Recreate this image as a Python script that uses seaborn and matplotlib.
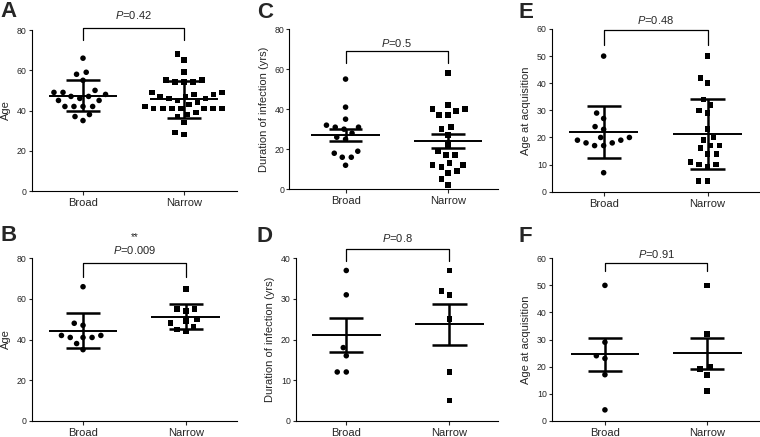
import pandas as pd
import matplotlib
matplotlib.use('Agg')
import matplotlib.pyplot as plt
import seaborn as sns

# Groups on the x axis
groups = ['Broad', 'Narrow']

# Panel A - age (mean +/- SD)
a_broad = [66, 58, 59, 55, 49, 48, 49, 50, 46, 45, 47, 47, 45, 42, 42, 42, 42, 38, 37, 35]
a_narrow = [68, 65, 59, 55, 54, 54, 54, 55, 49, 49, 48, 47, 46, 44, 45, 46, 47, 48, 43,
            41, 41, 41, 42, 41, 41, 41, 41, 37, 39, 38, 34, 28, 29]
a_mean = [47.3, 45.6]
a_low = [39.6, 36.5]
a_high = [55.2, 54.9]

# Panel B - age (mean +/- SD)
b_broad = [66, 47, 48, 42, 41, 41, 41, 42, 38, 35]
b_narrow = [65, 55, 54, 55, 50, 49, 46, 48, 44, 45]
b_mean = [44.2, 51.1]
b_low = [35.6, 45.0]
b_high = [52.9, 57.5]

# Panel C - duration of infection (mean +/- SEM)
c_broad = [55, 41, 35, 31, 30, 31, 32, 26, 25, 28, 18, 19, 16, 16, 12]
c_narrow = [58, 40, 42, 39, 40, 37, 37, 31, 30, 27, 22, 19, 17, 17, 13, 12, 12, 11, 9, 8, 5, 2]
c_mean = [27.0, 24.2]
c_low = [24.0, 20.8]
c_high = [30.0, 27.5]

# Panel D - duration of infection (mean +/- SEM)
d_broad = [37, 31, 18, 16, 12, 12]
d_narrow = [37, 32, 31, 25, 12, 5]
d_mean = [21.0, 23.7]
d_low = [16.8, 18.6]
d_high = [25.3, 28.8]

# Panel E - age at acquisition (mean +/- SD)
e_broad = [50, 29, 27, 24, 23, 20, 19, 18, 17, 17, 18, 19, 20, 7]
e_narrow = [50, 42, 40, 34, 32, 30, 29, 23, 20, 19, 17, 17, 16, 14, 14, 11, 10, 9, 10, 4, 4]
e_mean = [22.0, 21.2]
e_low = [12.4, 8.3]
e_high = [31.7, 34.1]

# Panel F - age at acquisition (mean +/- SEM)
f_broad = [50, 29, 24, 23, 17, 4]
f_narrow = [50, 32, 19, 20, 17, 11]
f_mean = [24.5, 24.9]
f_low = [18.4, 19.1]
f_high = [30.7, 30.6]

sns.set_style('ticks')
plt.rcParams['font.family'] = ['Liberation Sans', 'DejaVu Sans']
plt.rcParams['mathtext.fontset'] = 'custom'
plt.rcParams['mathtext.it'] = 'Liberation Sans:italic'
plt.rcParams['mathtext.rm'] = 'Liberation Sans'

W, H = 760, 437
fig = plt.figure(figsize=(W / 100, H / 100), dpi=100)


def px_axes(left, right, top, bottom):
    return fig.add_axes([left / W, 1 - bottom / H, (right - left) / W, (bottom - top) / H])


def draw_panel(ax, broad, narrow, mean, low, high, ylim, yticks, ylabel, xlim,
               ptext, bracket_y, leg_y, text_y, stars=None, stars_y=None):
    df = pd.DataFrame({'group': ['Broad'] * len(broad) + ['Narrow'] * len(narrow),
                       'value': broad + narrow})
    # linewidth with no edge colour only widens the swarm spacing
    sns.swarmplot(data=df[df['group'] == 'Broad'], x='group', y='value', order=groups,
                  color='black', marker='o', size=4.0, linewidth=2.2, edgecolor='none', ax=ax)
    sns.swarmplot(data=df[df['group'] == 'Narrow'], x='group', y='value', order=groups,
                  color='black', marker='s', size=4.1, linewidth=2.1, edgecolor='none', ax=ax)
    # mean line and error bars
    for i in range(len(groups)):
        ax.hlines(mean[i], i - 0.335, i + 0.335, color='black', lw=1.4, zorder=5)
        ax.vlines(i, low[i], high[i], color='black', lw=1.8, zorder=5)
        ax.hlines([low[i], high[i]], i - 0.165, i + 0.165, color='black', lw=1.8, zorder=5)
    ax.set_xlim(xlim)
    ax.set_ylim(ylim)
    ax.set_yticks(yticks)
    ax.set_xlabel('')
    ax.set_ylabel(ylabel, fontsize=8, labelpad=4)
    ax.tick_params(axis='y', labelsize=6.3, length=2, width=0.8, pad=1.5, direction='out')
    ax.tick_params(axis='x', labelsize=8, length=3, width=0.8, pad=2, direction='out')
    for s in ['left', 'bottom']:
        ax.spines[s].set_linewidth(0.8)
        ax.spines[s].set_color('black')
    sns.despine(ax=ax)
    # significance bracket
    ax.plot([0, 0, 1, 1], [leg_y, bracket_y, bracket_y, leg_y], color='black', lw=0.9,
            clip_on=False)
    ax.text(0.5, text_y, ptext, ha='center', va='baseline', fontsize=8, clip_on=False)
    if stars:
        ax.text(0.5, stars_y, stars, ha='center', va='center', fontsize=7, clip_on=False)


ax_a = px_axes(31.7, 237, 30, 191)
draw_panel(ax_a, a_broad, a_narrow, a_mean, a_low, a_high, (0, 80), [0, 20, 40, 60, 80],
           'Age', (-0.508, 1.525), '$P$=0.42', 81, 75, 85.3)

ax_b = px_axes(31.7, 237, 258.3, 420.7)
draw_panel(ax_b, b_broad, b_narrow, b_mean, b_low, b_high, (0, 80), [0, 20, 40, 60, 80],
           'Age', (-0.5, 1.5), '$P$=0.009', 77.5, 71, 82, stars='**', stars_y=90.5)

ax_c = px_axes(289.3, 498, 29, 189.3)
draw_panel(ax_c, c_broad, c_narrow, c_mean, c_low, c_high, (0, 80), [0, 20, 40, 60, 80],
           'Duration of infection (yrs)', (-0.55, 1.49), '$P$=0.5', 69, 63.2, 71)

ax_d = px_axes(295.7, 498, 258.3, 420.7)
draw_panel(ax_d, d_broad, d_narrow, d_mean, d_low, d_high, (0, 40), [0, 10, 20, 30, 40],
           'Duration of infection (yrs)', (-0.49, 1.47), '$P$=0.8', 42.2, 39.3, 44.1)

ax_e = px_axes(551.7, 759.5, 29, 191.7)
draw_panel(ax_e, e_broad, e_narrow, e_mean, e_low, e_high, (0, 60), [0, 10, 20, 30, 40, 50, 60],
           'Age at acquisition', (-0.5, 1.5), '$P$=0.48', 59.6, 54.1, 61.8)

ax_f = px_axes(551.7, 759.5, 258.3, 420.7)
draw_panel(ax_f, f_broad, f_narrow, f_mean, f_low, f_high, (0, 60), [0, 10, 20, 30, 40, 50, 60],
           'Age at acquisition', (-0.52, 1.51), '$P$=0.91', 58.4, 55.3, 60.1)

# panel letters
letters = [('A', 0, 16.7), ('B', 0, 241), ('C', 257, 18), ('D', 257, 242), ('E', 518, 18), ('F', 518, 242)]
for lab, x, y in letters:
    fig.text(x / W, 1 - y / H, lab, fontsize=16, fontweight='bold', va='baseline', ha='left')

fig.savefig('out.png', dpi=100)
